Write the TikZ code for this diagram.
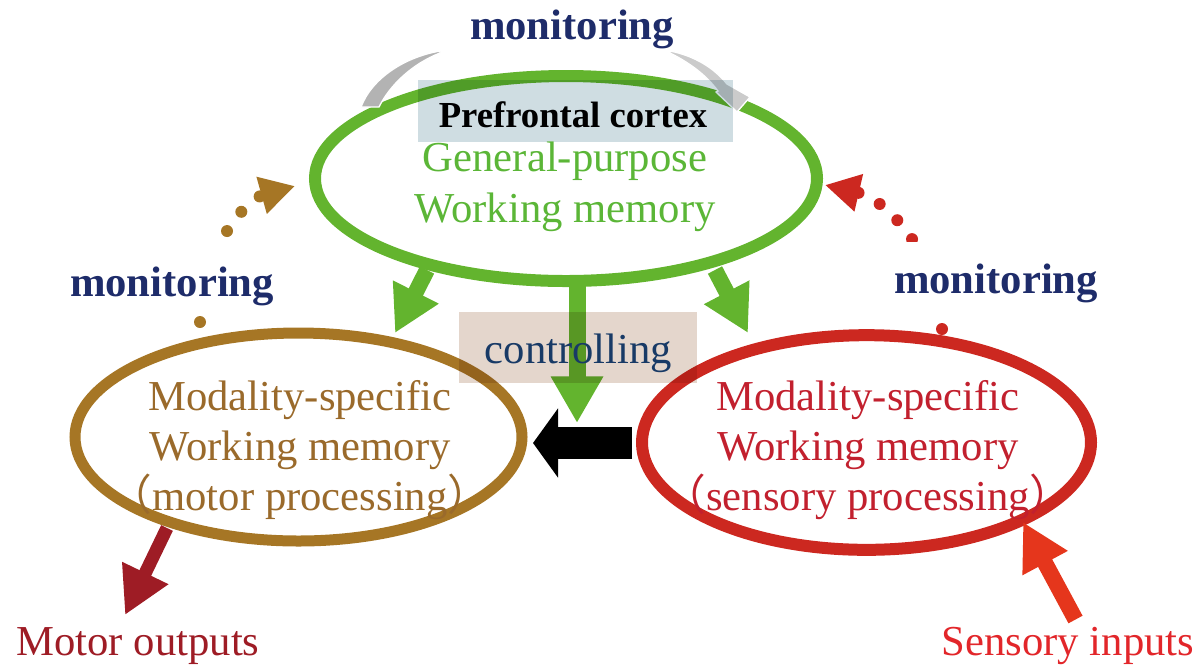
\documentclass[tikz,border=0pt]{standalone}
\usepackage{fontspec}
\setmainfont{Liberation Serif}
\newfontfamily\cjk{Noto Sans CJK SC}
\usetikzlibrary{arrows.meta,shapes.geometric}
\definecolor{pfcgreen}{HTML}{63B42E}
\definecolor{greentext}{HTML}{5BB637}
\definecolor{brownc}{HTML}{A67625}
\definecolor{browntext}{HTML}{9A6A2B}
\definecolor{redc}{HTML}{CC2820}
\definecolor{redtext}{HTML}{C2202E}
\definecolor{navy}{HTML}{1E2C6A}
\definecolor{ctrlnavy}{HTML}{183A66}
\definecolor{motorred}{HTML}{9E1C25}
\definecolor{sensred}{HTML}{E5361C}
\definecolor{senstext}{HTML}{E2262A}
\definecolor{pfcbox}{HTML}{CFDDE2}
\definecolor{ctrlbox}{HTML}{E4D6CC}
\definecolor{greyA}{HTML}{B3B3B3}
\definecolor{greyB}{HTML}{CBCBCB}
\newcommand\fsbig{\fontsize{32}{38}\selectfont}
\newcommand\fspfc{\fontsize{27.5}{33}\selectfont}
\begin{document}
\begin{tikzpicture}[x=0.75pt,y=-0.75pt,
  region/.style={ellipse, inner sep=0pt, outer sep=0pt},
  lbl/.style={anchor=base, inner sep=0pt, font=\fsbig},
  mon/.style={anchor=base, font=\fsbig\bfseries, text=navy},
  monbox/.style={mon, fill=white, inner xsep=2pt, inner ysep=4pt, text height=34pt, text depth=10.5pt},
  dotarrow/.style={line width=9pt, line cap=round, dash pattern=on 0pt off 18pt,
     -{Triangle[length=26pt,width=27pt]}},
  greenarrow/.style={draw=pfcgreen, line width=12pt, -{Triangle[length=34.5pt,width=36pt]}},
  labelbox/.style={inner sep=0pt, outer sep=0pt}
]
\useasboundingbox (0,0) rectangle (1202,669);

% coordinates for free connector ends
\coordinate (mdotS) at (200,322);
\coordinate (mdotE) at (295,186);
\coordinate (sdotS) at (942,329);
\coordinate (sdotE) at (825,185);
\coordinate (gLs) at (427,270);
\coordinate (gLe) at (395,333);
\coordinate (gRs) at (715,270);
\coordinate (gRe) at (748,333);
\coordinate (gCs) at (577,283);
\coordinate (gCe) at (577,423);
\coordinate (bS) at (632,443);
\coordinate (bE) at (533,443);
\coordinate (moS) at (167,528);
\coordinate (moE) at (125,615);
\coordinate (siS) at (1075.5,619.5);
\coordinate (siE) at (1023,522);

% dotted monitoring arrows
\draw[dotarrow, brownc] (mdotS) .. controls (202,250) and (245,200) .. (mdotE);
\draw[dotarrow, redc] (sdotS) .. controls (940,260) and (890,200) .. (sdotE);

% regions
\node[region, draw=pfcgreen, line width=9pt, minimum width=376.5pt, minimum height=153.75pt] (pfc) at (566,178.5) {};
\node[region, draw=brownc, line width=8.25pt, minimum width=335.25pt, minimum height=156pt] (motor) at (298.5,437) {};
\node[region, draw=redc, line width=9pt, minimum width=336.75pt, minimum height=161pt] (sensory) at (866.5,442.5) {};

% top monitoring arrow (grey, tapered)
\fill[greyA, draw=white, line width=1pt] (440,51) .. controls (405,57) and (372,78) .. (361,107) -- (379,107) .. controls (390,85) and (412,64) .. (440,53) -- cycle;
\fill[greyB, draw=white, line width=1pt] (670,51) .. controls (695,56) and (714,68) .. (727,84) -- (750,97) -- (737,112) -- (716,92) -- (718,91) .. controls (706,75) and (690,63) .. (670,53) -- cycle;

% green controlling arrows
\draw[greenarrow] (gLs) -- (gLe);
\draw[greenarrow] (gRs) -- (gRe);
\draw[draw=pfcgreen, line width=12.75pt, -{Triangle[length=35pt,width=37pt]}] (gCs) -- (gCe);

% black arrow
\draw[line width=24pt, -{Triangle[length=18.75pt,width=51pt]}] (bS) -- (bE);

% input / output arrows
\draw[draw=motorred, line width=9.75pt, -{Triangle[length=35pt,width=36pt]}] (moS) -- (moE);
\draw[draw=sensred, line width=12pt, -{Triangle[length=35pt,width=36pt]}] (siS) -- (siE);

% label boxes (multiply)
\begin{scope}[blend mode=multiply]
\node[labelbox, fill=pfcbox, minimum width=236.25pt, minimum height=46.5pt] (pfcbg) at (575.5,111) {};
\node[labelbox, fill=ctrlbox, minimum width=178.5pt, minimum height=53.25pt] (ctrlbg) at (577.5,347.5) {};
\end{scope}

% texts
\node[mon] (montop) at (572,39) {monitoring};
\node[monbox] (monleft) at (172,296) {monitoring};
\node[monbox] (monright) at (996,293) {monitoring};

\node[anchor=base, inner sep=0pt, font=\fspfc\bfseries] (pfctitle) at (573,127) {Prefrontal cortex};
\node[lbl, text=greentext] (pfc1) at (565,171) {General-purpose};
\node[lbl, text=greentext] (pfc2) at (565,222) {Working memory};

\node[lbl, text=ctrlnavy] (ctrl) at (578.5,363) {controlling};

\node[lbl, text=browntext] (mot1) at (300,410) {Modality-specific};
\node[lbl, text=browntext] (mot2) at (300,460) {Working memory};
\node[lbl, text=browntext] (mot3) at (300,510) {{\cjk （}motor processing{\cjk ）}};

\node[lbl, text=redtext] (sen1) at (868,410) {Modality-specific};
\node[lbl, text=redtext] (sen2) at (868,460) {Working memory};
\node[lbl, text=redtext] (sen3) at (868,510) {{\cjk （}sensory processing{\cjk ）}};

\node[lbl, text=motorred] (motout) at (138,655) {Motor outputs};
\node[lbl, text=senstext] (senin) at (1068,655) {Sensory inputs};
\end{tikzpicture}
\end{document}
